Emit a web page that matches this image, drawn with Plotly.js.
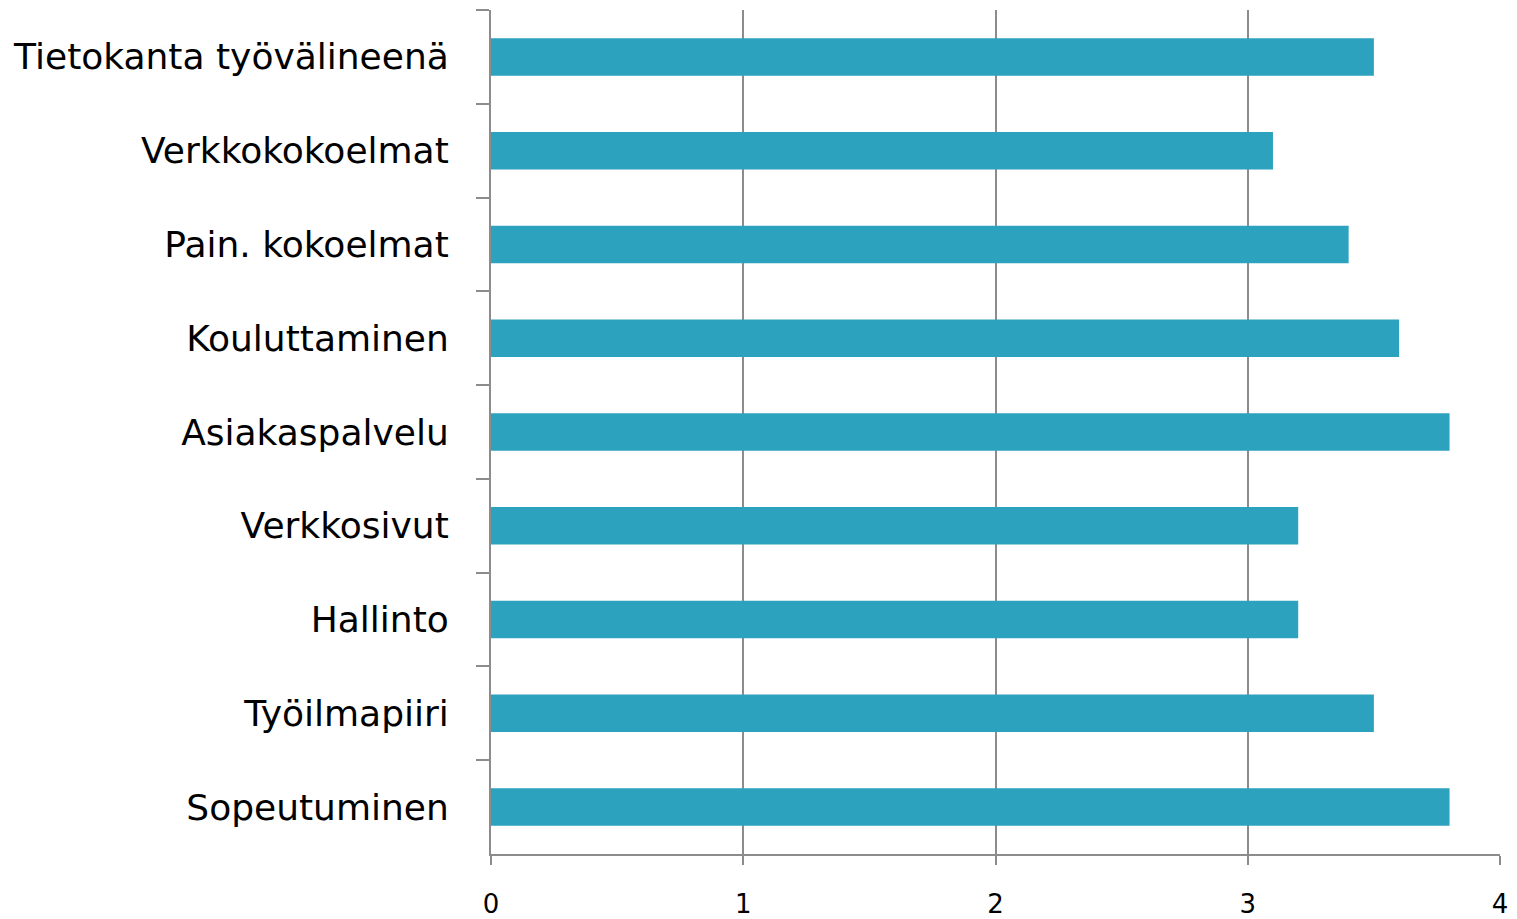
<!DOCTYPE html>
<html><head><meta charset="utf-8">
<script src="https://cdn.plot.ly/plotly-3.0.1.min.js"></script>
<style>html,body{margin:0;padding:0;background:#fff}#chart{width:1517px;height:919px}</style>
</head><body><div id="chart"></div>
<script>
const categories = ["Tietokanta työvälineenä","Verkkokokoelmat","Pain. kokoelmat","Kouluttaminen","Asiakaspalvelu","Verkkosivut","Hallinto","Työilmapiiri","Sopeutuminen"];
const values = [3.5, 3.1, 3.4, 3.6, 3.8, 3.2, 3.2, 3.5, 3.8];
const xTicks = [0, 1, 2, 3, 4];

const trace = {
  type: 'bar', orientation: 'h',
  x: values, y: categories,
  marker: {color: '#2ca2bf', line: {width: 0}},
  width: 0.4,
  hoverinfo: 'x+y'
};
const layout = {
  width: 1517, height: 919,
  margin: {l: 491, r: 17, t: 10, b: 65},
  paper_bgcolor: '#fff', plot_bgcolor: '#fff',
  showlegend: false,
  font: {family: 'DejaVu Sans, Verdana, sans-serif', color: '#000'},
  xaxis: {
    range: [0, 4], tickvals: xTicks, ticktext: xTicks.map(String),
    showgrid: true, gridcolor: '#8c8c8c', gridwidth: 2,
    zeroline: false, showline: true, linecolor: '#8c8c8c', linewidth: 2,
    ticks: 'outside', ticklen: 9, tickwidth: 2, tickcolor: '#8c8c8c',
    tickfont: {size: 26, color: '#000'}, ticklabelstandoff: 17, fixedrange: true
  },
  yaxis: {
    type: 'category', categoryorder: 'array', categoryarray: categories,
    autorange: 'reversed', range: [8.5, -0.5],
    tickson: 'boundaries', ticks: 'outside', ticklen: 13, tickwidth: 2, tickcolor: '#8c8c8c',
    showline: true, linecolor: '#8c8c8c', linewidth: 2, showgrid: false, zeroline: false,
    tickfont: {size: 36, color: '#000'}, ticklabelstandoff: 33, fixedrange: true
  }
};
Plotly.newPlot('chart', [trace], layout, {displayModeBar: false, staticPlot: true});
</script></body></html>
